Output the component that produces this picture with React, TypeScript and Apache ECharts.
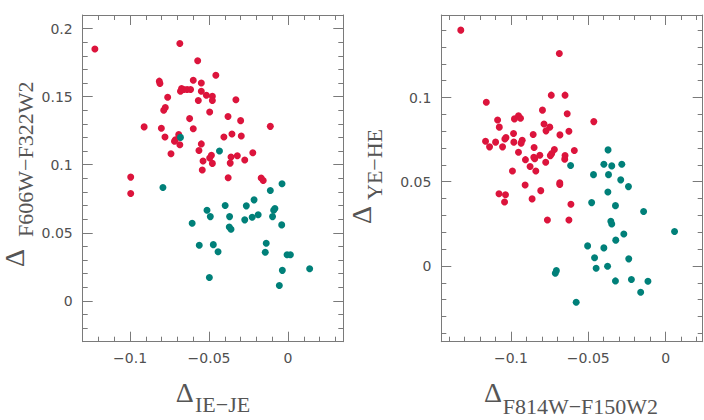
import React, { useEffect, useRef } from 'react';
import * as echarts from 'echarts';

// ---------- data ----------
// Left panel: x = Δ(IE−JE), y = Δ(F606W−F322W2)
const leftRed: number[][] = [
  [-0.1223, 0.185], [-0.0685, 0.189], [-0.0572, 0.1764], [-0.0457, 0.1658], [-0.0815, 0.1614],
  [-0.0811, 0.1597], [-0.06, 0.1621], [-0.0549, 0.16], [-0.0674, 0.156], [-0.066, 0.1553],
  [-0.0681, 0.154], [-0.0639, 0.1553], [-0.0617, 0.1553], [-0.0549, 0.154], [-0.0517, 0.1511],
  [-0.0479, 0.1503], [-0.0479, 0.1472], [-0.0568, 0.1472], [-0.033, 0.1477], [-0.0762, 0.1496],
  [-0.0777, 0.142], [-0.0787, 0.14], [-0.0496, 0.1388], [-0.0623, 0.1339], [-0.038, 0.1354],
  [-0.03, 0.1324], [-0.0911, 0.1278], [-0.0802, 0.1268], [-0.06, 0.1265], [-0.0112, 0.1282],
  [-0.0779, 0.1204], [-0.0692, 0.1221], [-0.0713, 0.1184], [-0.0719, 0.1172], [-0.0685, 0.1147],
  [-0.0406, 0.1204], [-0.0355, 0.1226], [-0.0296, 0.1211], [-0.0549, 0.1153], [-0.0564, 0.1105],
  [-0.0741, 0.1081], [-0.0485, 0.1069], [-0.0496, 0.1049], [-0.0361, 0.1057], [-0.0321, 0.1066],
  [-0.0223, 0.1088], [-0.0538, 0.1027], [-0.0479, 0.101], [-0.0366, 0.1012], [-0.0274, 0.1035],
  [-0.0543, 0.0961], [-0.0996, 0.0909], [-0.0379, 0.0904], [-0.017, 0.0902], [-0.0157, 0.0884],
  [-0.0996, 0.0789],
];
const leftTeal: number[][] = [
  [-0.0681, 0.1201], [-0.0434, 0.1101], [-0.0792, 0.0833], [-0.0038, 0.086], [-0.0112, 0.0811],
  [-0.0215, 0.0742], [-0.0398, 0.07], [-0.0264, 0.0698], [-0.0513, 0.0666], [-0.0492, 0.0619],
  [-0.037, 0.0619], [-0.0083, 0.0678], [-0.0091, 0.0666], [-0.0098, 0.0619], [-0.0189, 0.0632],
  [-0.0227, 0.0614], [-0.0274, 0.0595], [-0.0607, 0.057], [-0.0372, 0.0543], [-0.0361, 0.0526],
  [-0.004, 0.0558], [-0.0562, 0.0408], [-0.0473, 0.0413], [-0.0443, 0.0361], [-0.0138, 0.0423],
  [-0.0144, 0.0357], [-0.0006, 0.0339], [0.0015, 0.0339], [-0.0036, 0.0224], [0.0137, 0.0236],
  [-0.0498, 0.0172], [-0.0055, 0.0113],
];

// Right panel: x = Δ(F814W−F150W2), y = Δ(YE−HE)
const rightRed: number[][] = [
  [-0.1324, 0.14], [-0.0687, 0.1261], [-0.0739, 0.1014], [-0.065, 0.1014], [-0.1159, 0.0972],
  [-0.0796, 0.0925], [-0.0636, 0.0904], [-0.0464, 0.0857], [-0.1086, 0.0867], [-0.0977, 0.0873],
  [-0.0951, 0.0891], [-0.0938, 0.0877], [-0.1075, 0.0824], [-0.0786, 0.0843], [-0.0749, 0.0824],
  [-0.0773, 0.0802], [-0.0625, 0.08], [-0.0983, 0.0786], [-0.0856, 0.078], [-0.0683, 0.0778],
  [-0.1032, 0.0762], [-0.1039, 0.0754], [-0.1164, 0.074], [-0.1099, 0.0735], [-0.0981, 0.0735],
  [-0.0927, 0.0746], [-0.0934, 0.0729], [-0.1138, 0.0707], [-0.1054, 0.0707], [-0.085, 0.0703],
  [-0.0719, 0.0691], [-0.059, 0.0685], [-0.0951, 0.0675], [-0.0736, 0.0667], [-0.0745, 0.0655],
  [-0.0813, 0.0657], [-0.065, 0.0655], [-0.0852, 0.0645], [-0.0652, 0.0634], [-0.0906, 0.0631],
  [-0.0846, 0.0637], [-0.0775, 0.0616], [-0.0876, 0.059], [-0.0839, 0.0564], [-0.099, 0.0564],
  [-0.0684, 0.0493], [-0.0684, 0.0483], [-0.0908, 0.0481], [-0.0807, 0.0447], [-0.1077, 0.0429],
  [-0.1035, 0.0423], [-0.0863, 0.0398], [-0.1041, 0.038], [-0.0612, 0.0366], [-0.0764, 0.0273],
  [-0.0625, 0.0273],
];
const rightTeal: number[][] = [
  [-0.0614, 0.0596], [-0.0466, 0.0542], [-0.0372, 0.0689], [-0.0399, 0.0604], [-0.0348, 0.0594],
  [-0.0283, 0.0604], [-0.0369, 0.0542], [-0.029, 0.0511], [-0.024, 0.0471], [-0.0373, 0.0439],
  [-0.0478, 0.0376], [-0.0324, 0.0358], [-0.0142, 0.0323], [-0.0354, 0.0265], [-0.0348, 0.0249],
  [-0.027, 0.019], [0.0058, 0.0204], [-0.0322, 0.0153], [-0.0504, 0.0119], [-0.0399, 0.0107],
  [-0.0459, 0.0048], [-0.0238, 0.0042], [-0.0449, -0.0014], [-0.0375, -0.0002], [-0.0706, -0.0028],
  [-0.0713, -0.0043], [-0.0324, -0.0089], [-0.0221, -0.0081], [-0.0114, -0.0091], [-0.0161, -0.0156],
  [-0.0578, -0.0216],
];

// ---------- axes: ranges and ticks ----------
const leftXRange = [-0.13, 0.035];
const leftYRange = [-0.03, 0.21];
const rightXRange = [-0.145, 0.024];
const rightYRange = [-0.045, 0.149];

const leftXMajor = [-0.1, -0.05, 0];
const leftXMinor = [-0.13, -0.12, -0.11, -0.1, -0.09, -0.08, -0.07, -0.06, -0.05, -0.04, -0.03, -0.02, -0.01, 0, 0.01, 0.02, 0.03];
const leftYMajor = [0, 0.05, 0.1, 0.15, 0.2];
const leftYMinor = [-0.03, -0.02, -0.01, 0, 0.01, 0.02, 0.03, 0.04, 0.05, 0.06, 0.07, 0.08, 0.09, 0.1, 0.11, 0.12, 0.13, 0.14, 0.15, 0.16, 0.17, 0.18, 0.19, 0.2, 0.21];
const rightXMajor = [-0.1, -0.05, 0];
const rightXMinor = [-0.14, -0.13, -0.12, -0.11, -0.1, -0.09, -0.08, -0.07, -0.06, -0.05, -0.04, -0.03, -0.02, -0.01, 0, 0.01, 0.02];
const rightYMajor = [0, 0.05, 0.1];
const rightYMinor = [-0.04, -0.03, -0.02, -0.01, 0, 0.01, 0.02, 0.03, 0.04, 0.05, 0.06, 0.07, 0.08, 0.09, 0.1, 0.11, 0.12, 0.13, 0.14];

const RED = '#dc143c';
const TEAL = '#008079';
const FRAME = '#7a7a7a';
const LABEL = '#505050';

const fmt = (v: number) => (v === 0 ? '0' : String(v).replace('-', '\u2212'));

function makeAxis(gridIndex: number, pos: string, range: number[], ticks: number[], major: boolean, labels: number[] | null, margin: number) {
  return {
    type: 'value', gridIndex, position: pos, min: range[0], max: range[1],
    axisLine: { show: major, onZero: false, lineStyle: { color: FRAME, width: 1 } },
    axisTick: { show: true, inside: true, length: major ? 10 : 5, customValues: ticks, lineStyle: { color: FRAME, width: 1 } },
    axisLabel: labels
      ? { show: true, customValues: labels, formatter: fmt, margin, fontFamily: 'DejaVu Sans', fontSize: 14, color: LABEL }
      : { show: false },
    splitLine: { show: false },
  };
}

export default function App() {
  const ref = useRef<HTMLDivElement>(null);
  useEffect(() => {
    document.body.style.margin = '0';
    if (!ref.current) return;
    const chart = echarts.init(ref.current, null, { renderer: 'svg' });
    const leftRect = { left: 82.7, top: 15, width: 260.6, height: 326.7, outerBoundsMode: 'none' };
    const rightRect = { left: 441.3, top: 15, width: 261.4, height: 326.7, outerBoundsMode: 'none' };
    const titleFont = 'Liberation Serif';
    const deltaStyle = { text: '\u0394', font: `28px "${titleFont}"`, lineHeight: 22, fill: '#555', textAlign: 'left', textVerticalAlign: 'middle' };
    const subStyle = (t: string) => ({ text: t, font: `22px "${titleFont}"`, lineHeight: 18, fill: '#555', textAlign: 'left', textVerticalAlign: 'middle' });
    chart.setOption({
      animation: false,
      backgroundColor: '#fff',
      grid: [leftRect, leftRect, rightRect, rightRect],
      xAxis: [
        makeAxis(0, 'bottom', leftXRange, leftXMajor, true, leftXMajor, 9),
        makeAxis(0, 'top', leftXRange, leftXMajor, true, null, 9),
        makeAxis(1, 'bottom', leftXRange, leftXMinor, false, null, 9),
        makeAxis(1, 'top', leftXRange, leftXMinor, false, null, 9),
        makeAxis(2, 'bottom', rightXRange, rightXMajor, true, rightXMajor, 9),
        makeAxis(2, 'top', rightXRange, rightXMajor, true, null, 9),
        makeAxis(3, 'bottom', rightXRange, rightXMinor, false, null, 9),
        makeAxis(3, 'top', rightXRange, rightXMinor, false, null, 9),
      ],
      yAxis: [
        makeAxis(0, 'left', leftYRange, leftYMajor, true, leftYMajor, 10),
        makeAxis(0, 'right', leftYRange, leftYMajor, true, null, 10),
        makeAxis(1, 'left', leftYRange, leftYMinor, false, null, 10),
        makeAxis(1, 'right', leftYRange, leftYMinor, false, null, 10),
        makeAxis(2, 'left', rightYRange, rightYMajor, true, rightYMajor, 10),
        makeAxis(2, 'right', rightYRange, rightYMajor, true, null, 10),
        makeAxis(3, 'left', rightYRange, rightYMinor, false, null, 10),
        makeAxis(3, 'right', rightYRange, rightYMinor, false, null, 10),
      ],
      series: [
        { type: 'scatter', xAxisIndex: 0, yAxisIndex: 0, data: leftRed, symbolSize: 7, itemStyle: { color: RED, opacity: 1 } },
        { type: 'scatter', xAxisIndex: 0, yAxisIndex: 0, data: leftTeal, symbolSize: 7, itemStyle: { color: TEAL, opacity: 1 } },
        { type: 'scatter', xAxisIndex: 4, yAxisIndex: 4, data: rightRed, symbolSize: 7, itemStyle: { color: RED, opacity: 1 } },
        { type: 'scatter', xAxisIndex: 4, yAxisIndex: 4, data: rightTeal, symbolSize: 7, itemStyle: { color: TEAL, opacity: 1 } },
      ],
      graphic: [
        { type: 'text', x: 175.7, y: 392.2, style: deltaStyle },
        { type: 'text', x: 195, y: 404.8, style: subStyle('IE\u2212JE') },
        { type: 'text', x: 484, y: 392.2, style: deltaStyle },
        { type: 'text', x: 502.7, y: 406.3, style: subStyle('F814W\u2212F150W2') },
        { type: 'text', x: 14.5, y: 267, rotation: Math.PI / 2, style: deltaStyle },
        { type: 'text', x: 25.5, y: 237, rotation: Math.PI / 2, style: subStyle('F606W\u2212F322W2') },
        { type: 'text', x: 361.5, y: 224, rotation: Math.PI / 2, style: deltaStyle },
        { type: 'text', x: 374.5, y: 200, rotation: Math.PI / 2, style: subStyle('YE\u2212HE') },
      ],
    });
    return () => chart.dispose();
  }, []);
  return <div ref={ref} style={{ width: 704, height: 420 }} />;
}
